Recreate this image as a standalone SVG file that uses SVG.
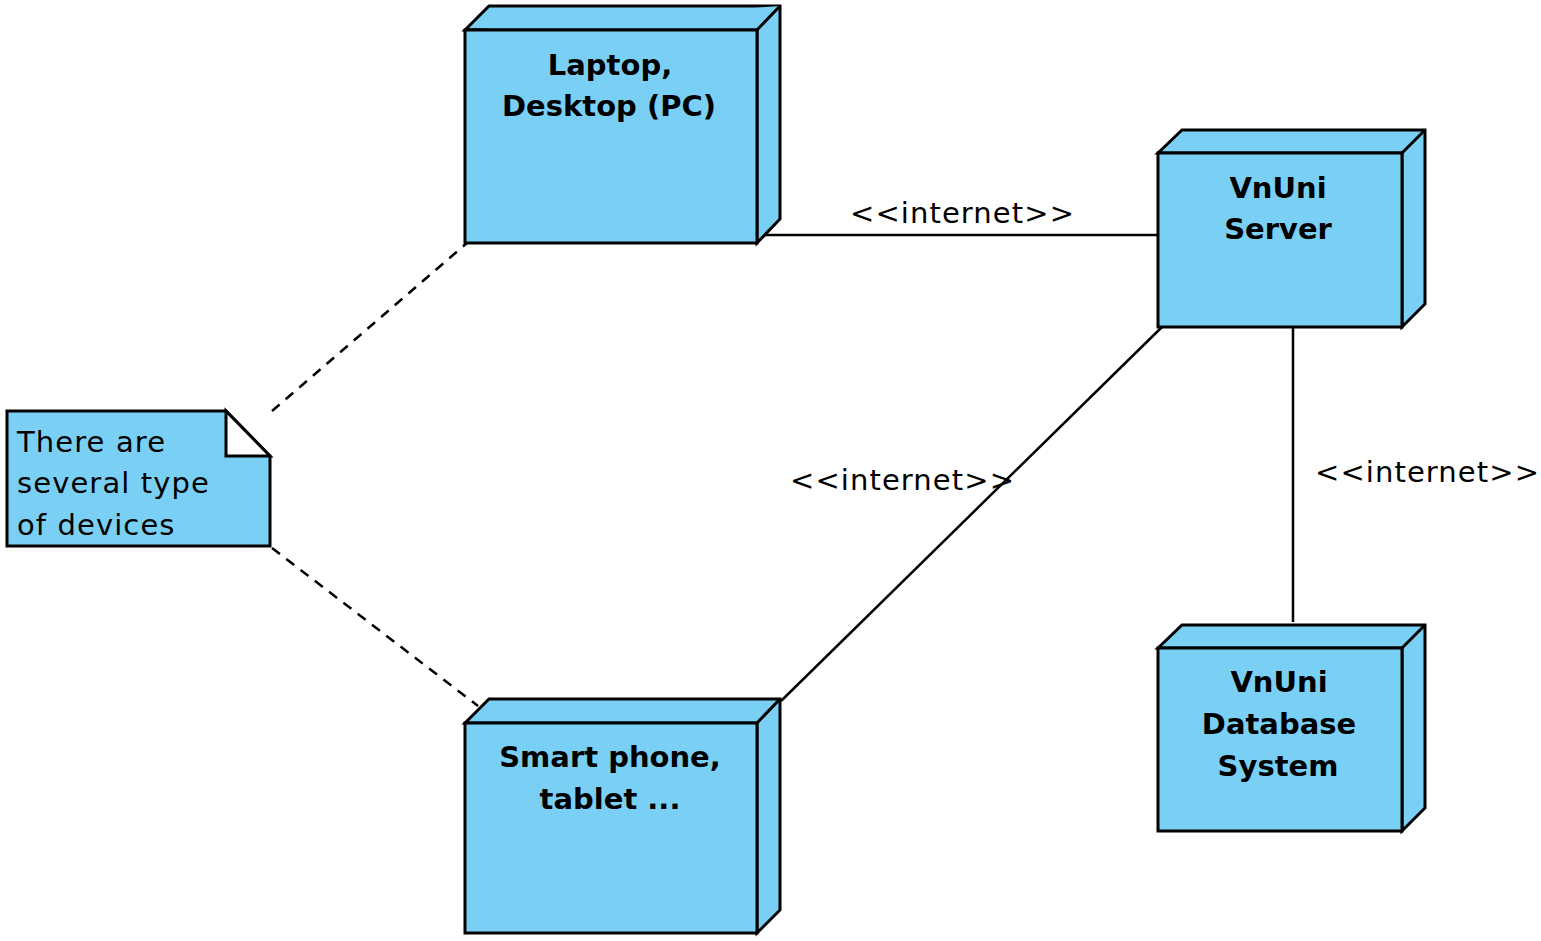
<svg xmlns="http://www.w3.org/2000/svg" width="1541" height="941" viewBox="0 0 1541 941">
<style>
.face{fill:#7acff4;stroke:#000;stroke-width:3;stroke-linejoin:miter}
.title{font-family:"DejaVu Sans",Verdana,sans-serif;font-weight:bold;font-size:29px;text-anchor:middle;fill:#000}
.lbl{font-family:"DejaVu Sans",Verdana,sans-serif;font-size:29px;letter-spacing:1.1px;fill:#000}
.conn{stroke:#000;stroke-width:2.5;fill:none}
.dash{stroke:#000;stroke-width:2.5;fill:none;stroke-dasharray:10 8}
</style>
<rect width="1541" height="941" fill="#fff"/>
<g id="connectors">
<line class="conn" x1="764" y1="235" x2="1157" y2="235"/>
<line class="conn" x1="781" y1="701" x2="1162" y2="327"/>
<line class="conn" x1="1293" y1="327" x2="1293" y2="622"/>
<line class="dash" x1="272" y1="411" x2="467" y2="243"/>
<line class="dash" x1="272" y1="548" x2="478" y2="706"/>
<text class="lbl" x="850" y="223">&lt;&lt;internet&gt;&gt;</text>
<text class="lbl" x="790" y="490">&lt;&lt;internet&gt;&gt;</text>
<text class="lbl" x="1315" y="482">&lt;&lt;internet&gt;&gt;</text>
</g>
<g id="laptop">
<path class="face" d="M465,30 L489,6 L780,6 L780,219 L757,243 L757,30 Z"/>
<path class="face" d="M465,30 L757,30 L780,6"/>
<rect class="face" x="465" y="30" width="292" height="213"/>
<text class="title" x="610" y="75">Laptop,</text>
<text class="title" x="609" y="116">Desktop (PC)</text>
</g>
<g id="server">
<path class="face" d="M1158,153 L1182,130 L1425,130 L1425,304 L1402,327 L1402,153 Z"/>
<path class="face" d="M1402,153 L1425,130"/>
<rect class="face" x="1158" y="153" width="244" height="174"/>
<text class="title" x="1278" y="198">VnUni</text>
<text class="title" x="1278" y="239">Server</text>
</g>
<g id="database">
<path class="face" d="M1158,648 L1182,625 L1425,625 L1425,808 L1402,831 L1402,648 Z"/>
<path class="face" d="M1402,648 L1425,625"/>
<rect class="face" x="1158" y="648" width="244" height="183"/>
<text class="title" x="1279" y="692">VnUni</text>
<text class="title" x="1279" y="734">Database</text>
<text class="title" x="1278" y="776">System</text>
</g>
<g id="smartphone">
<path class="face" d="M465,723 L489,699 L780,699 L780,910 L757,933 L757,723 Z"/>
<path class="face" d="M757,723 L780,699"/>
<rect class="face" x="465" y="723" width="292" height="210"/>
<text class="title" x="610" y="767">Smart phone,</text>
<text class="title" x="610" y="809">tablet ...</text>
</g>
<g id="note">
<path class="face" d="M7,411 L226,411 L270,456 L270,546 L7,546 Z"/>
<path d="M226,411 L226,456 L270,456 Z" fill="#fff" stroke="#000" stroke-width="3" stroke-linejoin="miter"/>
<text class="lbl" x="17" y="452">There are</text>
<text class="lbl" x="17" y="493">several type</text>
<text class="lbl" x="17" y="535">of devices</text>
</g>
</svg>
